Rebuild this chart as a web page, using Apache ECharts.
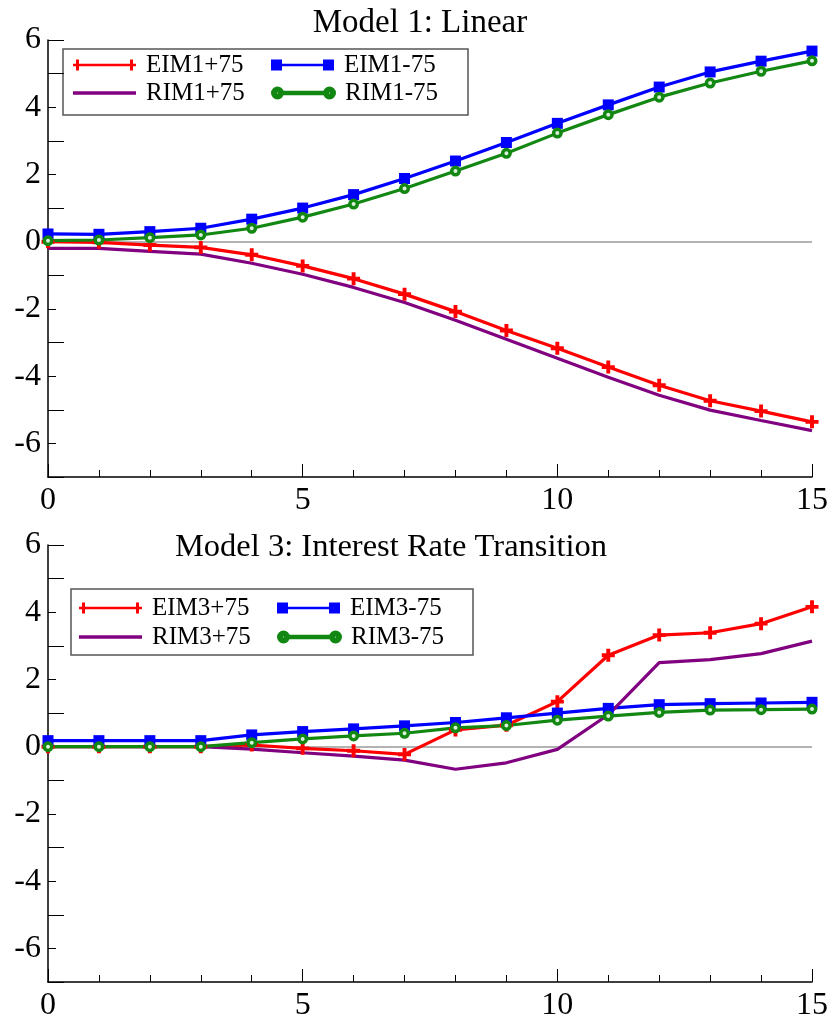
<!DOCTYPE html>
<html>
<head>
<meta charset="utf-8">
<script src="https://cdn.jsdelivr.net/npm/echarts@6/dist/echarts.min.js"></script>
<style>
  html, body { margin: 0; padding: 0; background: #fff; }
  #main { width: 831px; height: 1026px; }
</style>
</head>
<body>
<div id="main"></div>
<script>
// horizon (quarters after shock)
var steps = [0, 1, 2, 3, 4, 5, 6, 7, 8, 9, 10, 11, 12, 13, 14, 15];
var yTicks = [-6, -4, -2, 0, 2, 4, 6];

// Model 1: Linear
var eim1Plus = [0, -0.02, -0.1, -0.17, -0.39, -0.72, -1.1, -1.56, -2.08, -2.64, -3.17, -3.73, -4.27, -4.73, -5.04, -5.36];
var eim1Minus = [0.23, 0.22, 0.3, 0.4, 0.67, 1.0, 1.4, 1.88, 2.4, 2.95, 3.52, 4.07, 4.6, 5.05, 5.37, 5.67];
var rim1Plus = [-0.2, -0.2, -0.29, -0.37, -0.64, -0.97, -1.36, -1.81, -2.34, -2.9, -3.47, -4.03, -4.57, -5.01, -5.32, -5.62];
var rim1Minus = [0.03, 0.05, 0.12, 0.2, 0.4, 0.73, 1.12, 1.58, 2.1, 2.63, 3.23, 3.78, 4.3, 4.72, 5.07, 5.38];

// Model 3: Interest Rate Transition
var eim3Plus = [0, 0, 0, 0, 0.05, -0.05, -0.12, -0.23, 0.5, 0.64, 1.34, 2.72, 3.32, 3.39, 3.66, 4.16];
var eim3Minus = [0.18, 0.18, 0.18, 0.18, 0.35, 0.45, 0.53, 0.62, 0.72, 0.86, 1.0, 1.14, 1.25, 1.28, 1.3, 1.32];
var rim3Plus = [0, 0, 0, 0, -0.07, -0.18, -0.28, -0.4, -0.67, -0.48, -0.08, 0.95, 2.5, 2.59, 2.77, 3.14];
var rim3Minus = [0, 0, 0, 0, 0.12, 0.23, 0.32, 0.4, 0.56, 0.63, 0.79, 0.91, 1.02, 1.09, 1.1, 1.12];

var FONT = "Liberation Serif";
var RED = '#ff0000', BLUE = '#0000ff', PURPLE = '#800080', GREEN = '#128712';
var PLUS = 'path://M3.5,0h3v10h-3zM0,3.5h10v3h-10z';

function pairs(vals) {
  return steps.map(function (s, i) { return [s, vals[i]]; });
}

// legend icons: line with a marker at each end
var icons = {
  plus: 'path://M3,0h3v11h-3zM57,0h3v11h-3zM0,4.25h63v2.5h-63z',
  square: 'path://M0,0h11v11h-11zM52,0h11v11h-11zM11,4.25h41v2.5h-41z',
  line: 'path://M0,0h63v3.5h-63z',
  circle: 'path://M0,5.5a5.5,5.5 0 1,0 11,0a5.5,5.5 0 1,0 -11,0zM4,5.5a1.5,1.5 0 1,1 3,0a1.5,1.5 0 1,1 -3,0zM52,5.5a5.5,5.5 0 1,0 11,0a5.5,5.5 0 1,0 -11,0zM56,5.5a1.5,1.5 0 1,1 3,0a1.5,1.5 0 1,1 -3,0zM11,4.25h41v2.5h-41z'
};

function legendItem(name, icon, color, left, cy, h) {
  return {
    data: [{ name: name, icon: icons[icon], itemStyle: { color: color } }],
    left: left, top: cy - 14, padding: 0,
    itemWidth: 63, itemHeight: h,
    selectedMode: false,
    textStyle: { fontFamily: FONT, fontSize: 25, color: '#000', lineHeight: 28, padding: [0, 0, 0, 5] }
  };
}

function xAxis(gi) {
  return {
    type: 'value', gridIndex: gi, min: 0, max: 15, interval: 5,
    axisLine: { show: true, onZero: false, lineStyle: { color: '#000', width: 1.5 } },
    axisTick: { show: true, inside: true, length: 13, lineStyle: { color: '#000' } },
    minorTick: { show: true, splitNumber: 5, length: 7, lineStyle: { color: '#000' } },
    axisLabel: { fontFamily: FONT, fontSize: 32, color: '#000', margin: 8 },
    splitLine: { show: false }
  };
}

function yAxis(gi) {
  return {
    type: 'value', gridIndex: gi, min: -7, max: 6, interval: 2,
    axisLine: { show: true, onZero: false, lineStyle: { color: '#000', width: 1.5 } },
    axisTick: { show: true, inside: true, length: 16, lineStyle: { color: '#000' } },
    minorTick: { show: true, splitNumber: 2, length: 8, lineStyle: { color: '#000' } },
    axisLabel: {
      fontFamily: FONT, fontSize: 32, color: '#000', margin: 7,
      customValues: yTicks
    },
    splitLine: { show: false }
  };
}

function lineSeries(name, vals, gi, color, symbol, size, withZero) {
  var s = {
    name: name, type: 'line', xAxisIndex: gi, yAxisIndex: gi,
    data: pairs(vals), color: color,
    lineStyle: { width: 3.2, color: color },
    symbol: symbol, symbolSize: size, showSymbol: symbol !== 'none', showAllSymbol: true,
    itemStyle: symbol === 'circle'
      ? { color: '#dcefdc', borderColor: color, borderWidth: 3.5 }
      : { color: color, borderWidth: 0 },
    animation: false
  };
  if (withZero) {
    s.markLine = {
      silent: true, symbol: 'none', z: 1,
      label: { show: false },
      lineStyle: { color: '#9a9a9a', width: 1.5, type: 'solid' },
      data: [{ yAxis: 0 }]
    };
  }
  return s;
}

var chart = echarts.init(document.getElementById('main'));
var option = {
  backgroundColor: '#fff',
  animation: false,
  textStyle: { fontFamily: FONT },
  title: [
    { text: 'Model 1: Linear', left: 415, top: 2, textAlign: 'center',
      textStyle: { fontFamily: FONT, fontSize: 33, fontWeight: 'normal', color: '#000' } },
    { text: 'Model 3: Interest Rate Transition', left: 386, top: 526, textAlign: 'center',
      textStyle: { fontFamily: FONT, fontSize: 32.5, fontWeight: 'normal', color: '#000' } }
  ],
  grid: [
    { left: 48, right: 15, top: 40, height: 437 },
    { left: 48, right: 15, top: 545, height: 437 }
  ],
  xAxis: [xAxis(0), xAxis(1)],
  yAxis: [yAxis(0), yAxis(1)],
  legend: [
    legendItem('EIM1+75', 'plus', RED, 73, 65, 11),
    legendItem('EIM1-75', 'square', BLUE, 271, 65, 11),
    legendItem('RIM1+75', 'line', PURPLE, 73, 93, 3.5),
    legendItem('RIM1-75', 'circle', GREEN, 271, 93, 11),
    legendItem('EIM3+75', 'plus', RED, 79, 608, 11),
    legendItem('EIM3-75', 'square', BLUE, 277, 608, 11),
    legendItem('RIM3+75', 'line', PURPLE, 79, 637, 3.5),
    legendItem('RIM3-75', 'circle', GREEN, 277, 637, 11)
  ],
  graphic: [
    { type: 'rect', shape: { x: 63, y: 49, width: 405, height: 66 },
      style: { fill: 'none', stroke: '#555', lineWidth: 1.5 }, z: 0 },
    { type: 'rect', shape: { x: 71, y: 589, width: 402, height: 66 },
      style: { fill: 'none', stroke: '#555', lineWidth: 1.5 }, z: 0 }
  ],
  series: [
    lineSeries('EIM1+75', eim1Plus, 0, RED, PLUS, 13, true),
    lineSeries('EIM1-75', eim1Minus, 0, BLUE, 'rect', 11, false),
    lineSeries('RIM1+75', rim1Plus, 0, PURPLE, 'none', 0, false),
    lineSeries('RIM1-75', rim1Minus, 0, GREEN, 'circle', 7.5, false),
    lineSeries('EIM3+75', eim3Plus, 1, RED, PLUS, 13, true),
    lineSeries('EIM3-75', eim3Minus, 1, BLUE, 'rect', 11, false),
    lineSeries('RIM3+75', rim3Plus, 1, PURPLE, 'none', 0, false),
    lineSeries('RIM3-75', rim3Minus, 1, GREEN, 'circle', 7.5, false)
  ]
};
chart.setOption(option);
</script>
</body>
</html>
